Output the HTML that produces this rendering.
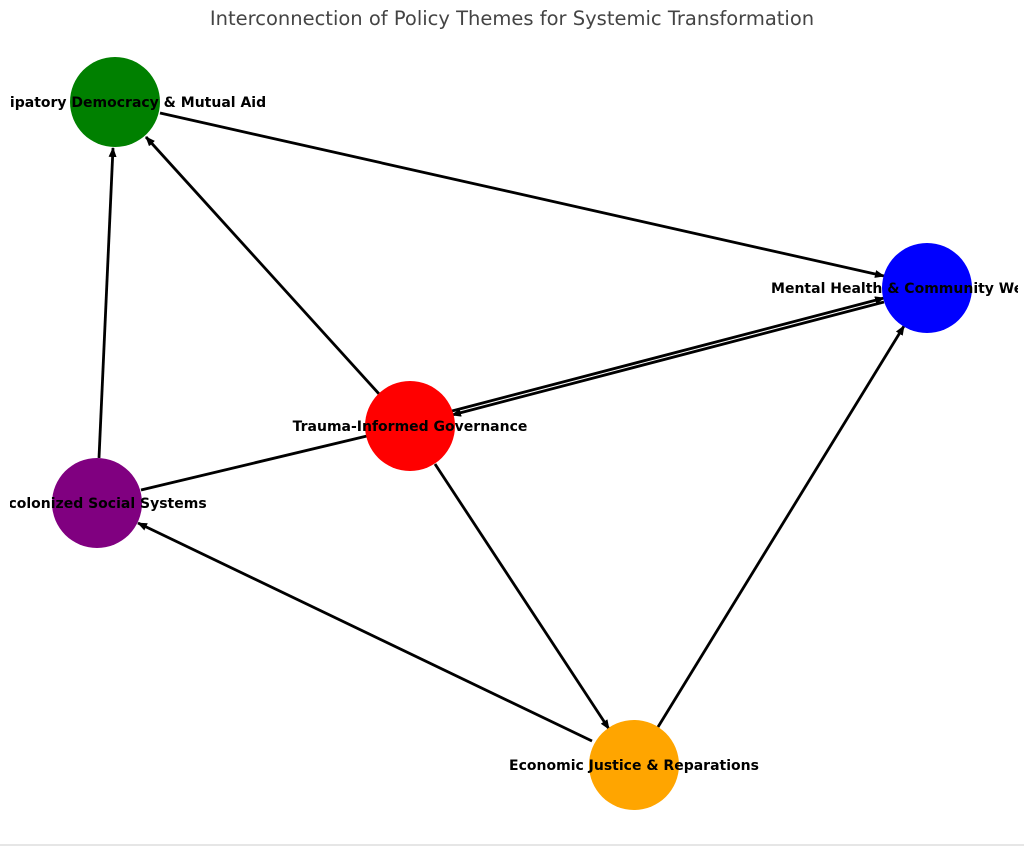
<!DOCTYPE html>
<html><head><meta charset="utf-8"><style>
html,body{margin:0;padding:0;background:#fff;width:1024px;height:846px;overflow:hidden}
svg{display:block}
text{font-family:"DejaVu Sans","Liberation Sans",sans-serif}
</style></head><body>
<svg width="1024" height="846" viewBox="0 0 1024 846" xmlns="http://www.w3.org/2000/svg">
<defs>
<marker id="a" markerWidth="10" markerHeight="8" refX="9" refY="4" orient="auto" markerUnits="userSpaceOnUse">
<path d="M0,0 L10,4 L0,8 z" fill="#000"/>
</marker>
<clipPath id="c"><rect x="10" y="0" width="1008" height="846"/></clipPath>
</defs>
<text x="512" y="25" text-anchor="middle" font-size="19.5" fill="#444">Interconnection of Policy Themes for Systemic Transformation</text>
<g stroke="#000" stroke-width="2.8" fill="none">
<line x1="160" y1="113" x2="884" y2="276" marker-end="url(#a)"/>
<line x1="380" y1="395" x2="146" y2="137" marker-end="url(#a)"/>
<line x1="99" y1="458" x2="113" y2="148" marker-end="url(#a)"/>
<line x1="452" y1="411" x2="884" y2="298" marker-end="url(#a)"/>
<line x1="884" y1="302" x2="452" y2="415" marker-end="url(#a)"/>
<line x1="141" y1="490" x2="367" y2="436"/>
<line x1="435" y1="464" x2="609" y2="729" marker-end="url(#a)"/>
<line x1="592" y1="741" x2="138" y2="523" marker-end="url(#a)"/>
<line x1="658" y1="727" x2="904" y2="326" marker-end="url(#a)"/>
</g>
<circle cx="115" cy="102" r="45" fill="#008000"/>
<circle cx="927" cy="288" r="45" fill="#0000ff"/>
<circle cx="410" cy="426" r="45" fill="#ff0000"/>
<circle cx="97" cy="503" r="45" fill="#800080"/>
<circle cx="634" cy="765" r="45" fill="#ffa500"/>
<g font-size="14" font-weight="bold" fill="#000" text-anchor="middle" clip-path="url(#c)">
<text x="115" y="107">Participatory Democracy &amp; Mutual Aid</text>
<text x="927" y="293">Mental Health &amp; Community Well-being</text>
<text x="410" y="431">Trauma-Informed Governance</text>
<text x="97" y="508">Decolonized Social Systems</text>
<text x="634" y="770">Economic Justice &amp; Reparations</text>
</g>
<line x1="0" y1="845" x2="1024" y2="845" stroke="#ccc" stroke-width="1"/>
</svg>
</body></html>
